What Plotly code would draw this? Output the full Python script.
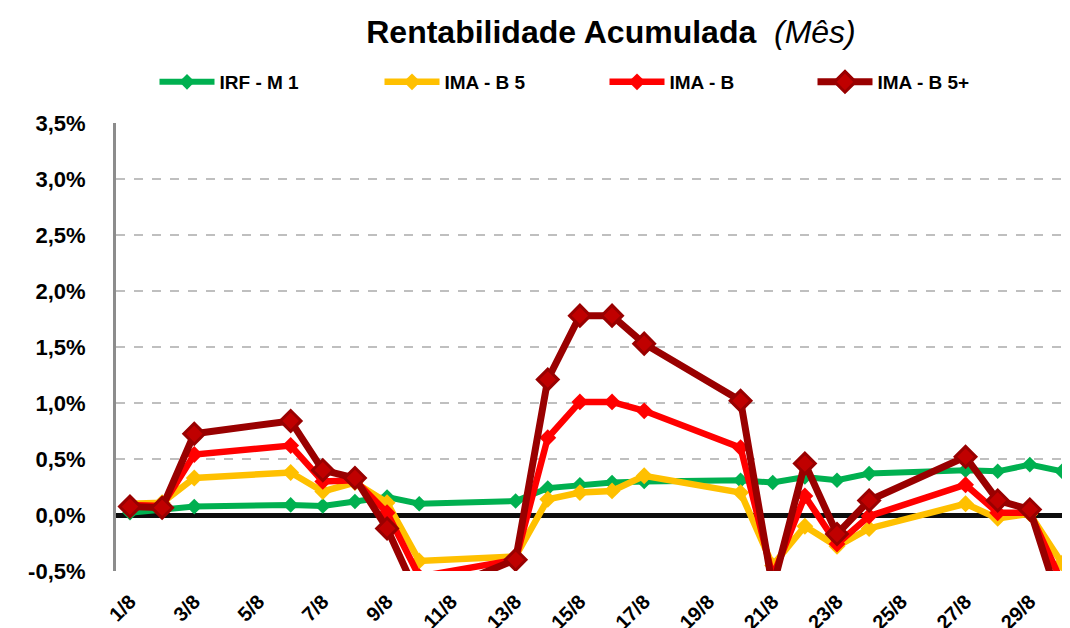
import plotly.graph_objects as go

# ---------------- data ----------------
days = [1, 2, 3, 6, 7, 8, 9, 10, 13, 14, 15, 16, 17, 20, 21, 22, 23, 24, 27, 28, 29, 30]

irf_m1 = [0.02, 0.05, 0.075, 0.09, 0.08, 0.12, 0.16, 0.10, 0.125, 0.24, 0.27, 0.29,
          0.30, 0.31, 0.29, 0.34, 0.31, 0.37, 0.40, 0.39, 0.45, 0.39]
ima_b5 = [0.10, 0.11, 0.33, 0.38, 0.21, 0.29, 0.11, -0.41, -0.37, 0.14, 0.20, 0.215,
          0.35, 0.20, -0.45, -0.10, -0.28, -0.12, 0.10, -0.03, 0.01, -0.43]
ima_b = [0.09, 0.08, 0.54, 0.62, 0.30, 0.31, 0.02, -0.55, -0.40, 0.69, 1.01, 1.01,
         0.93, 0.60, -0.55, 0.17, -0.26, -0.01, 0.27, 0.02, 0.02, -0.60]
ima_b5p = [0.075, 0.065, 0.725, 0.84, 0.40, 0.33, -0.12, -0.75, -0.40, 1.21, 1.78, 1.78,
           1.53, 1.02, -0.65, 0.46, -0.17, 0.13, 0.52, 0.13, 0.05, -0.85]

series_names = ["IRF - M 1", "IMA - B 5", "IMA - B", "IMA - B 5+"]

x_tick_days = list(range(1, 30, 2))
x_tick_text = [f"{d}/8" for d in x_tick_days]
y_tick_vals = [-0.5, 0.0, 0.5, 1.0, 1.5, 2.0, 2.5, 3.0, 3.5]
y_tick_text = ["-0,5%", "0,0%", "0,5%", "1,0%", "1,5%", "2,0%", "2,5%", "3,0%", "3,5%"]

FONT = "Liberation Sans, Arial, sans-serif"

# page body has an 8px default margin -> work in figure coordinates
OFF = 8
W, H = 1062, 620
L, R, T, B = 108, 0, 115, 57
pw = W - L - R
ph = H - T - B

styles = [
    dict(line=dict(color="#00B050", width=6), marker=dict(symbol="diamond", size=12, color="#00B050")),
    dict(line=dict(color="#FFC000", width=6.5), marker=dict(symbol="diamond", size=13, color="#FFC000")),
    dict(line=dict(color="#FF0000", width=6.5), marker=dict(symbol="diamond", size=13, color="#FF0000")),
    dict(line=dict(color="#990000", width=7), marker=dict(symbol="diamond", size=16, color="#C00000",
                                                        line=dict(color="#990000", width=3))),
]

fig = go.Figure()
for i, (name, vals) in enumerate(zip(series_names, [irf_m1, ima_b5, ima_b, ima_b5p])):
    lg = "legend" if i == 0 else f"legend{i + 1}"
    fig.add_trace(go.Scatter(
        x=days, y=vals, name=name, mode="lines+markers",
        line=styles[i]["line"], marker=styles[i]["marker"],
        legend=lg, cliponaxis=True,
    ))

legend_common = dict(
    orientation="h", yanchor="middle", xanchor="left",
    bgcolor="rgba(0,0,0,0)", itemwidth=55,
    font=dict(family=FONT, size=19, color="black", weight="bold"),
)
legend_symbol_px = [160, 385, 610, 818]   # window px where each legend line starts
legend_center_y = 82                      # window px
for i, px in enumerate(legend_symbol_px):
    key = "legend" if i == 0 else f"legend{i + 1}"
    lx = px - 5.5 - OFF
    ly = legend_center_y - OFF
    fig.update_layout(**{key: dict(legend_common, x=(lx - L) / pw, y=(H - B - ly) / ph)})

fig.update_layout(
    width=W, height=H,
    margin=dict(l=L, r=R, t=T, b=B, autoexpand=False),
    paper_bgcolor="white", plot_bgcolor="white",
    showlegend=True,
    title=dict(
        text="<b>Rentabilidade Acumulada</b>  <i>(Mês)</i>",
        x=(611 - OFF) / W, xref="container", xanchor="center",
        y=1 - (32 - OFF) / H, yref="container", yanchor="middle",
        font=dict(family=FONT, size=32, color="black"),
    ),
    xaxis=dict(
        range=[0.565, 30.25], tickmode="array", tickvals=x_tick_days, ticktext=x_tick_text,
        tickangle=-45, showgrid=False, zeroline=False, showline=False,
        ticks="", ticklabelstandoff=14,
        tickfont=dict(family=FONT, size=20, color="black", weight="bold"),
    ),
    yaxis=dict(
        range=[-0.5, 3.5], tickmode="array", tickvals=y_tick_vals, ticktext=y_tick_text,
        showgrid=True, gridcolor="#BFBFBF", griddash="dash", gridwidth=2,
        zeroline=True, zerolinecolor="#0D0D0D", zerolinewidth=5,
        showline=True, linecolor="#8C8C8C", linewidth=3,
        ticks="", ticklabelstandoff=23,
        tickfont=dict(family=FONT, size=22, color="black", weight="bold"),
    ),
)

fig.write_html("out.html")
